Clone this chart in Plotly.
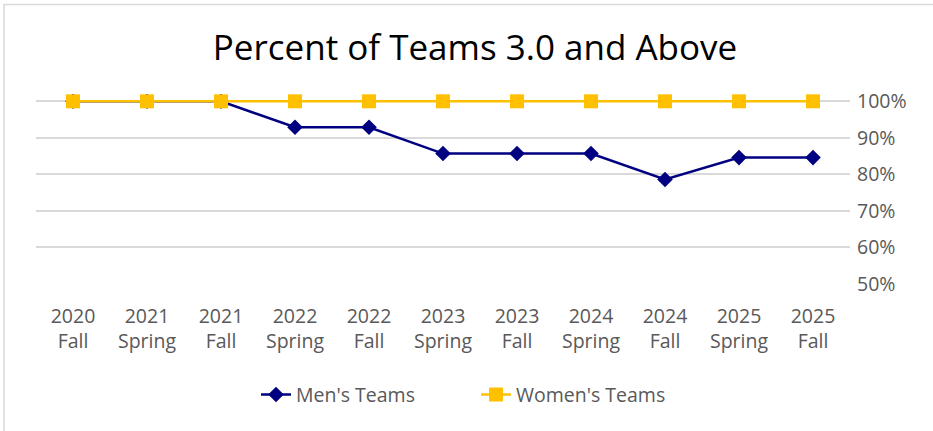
import plotly.graph_objects as go

categories = ["2020<br>Fall", "2021<br>Spring", "2021<br>Fall", "2022<br>Spring", "2022<br>Fall",
              "2023<br>Spring", "2023<br>Fall", "2024<br>Spring", "2024<br>Fall", "2025<br>Spring", "2025<br>Fall"]
mens = [100, 100, 100, 92.9, 92.9, 85.7, 85.7, 85.7, 78.6, 84.6, 84.6]
womens = [100, 100, 100, 100, 100, 100, 100, 100, 100, 100, 100]
y_ticks = [50, 60, 70, 80, 90, 100]
y_labels = [f"{v}%" for v in y_ticks]

W, H = 933, 431
y_top = 102.0
px_per_unit = (284 - 101) / 50
ml, mr = 36, 83
mb = H - 284
mt = 101 - (y_top - 100) * px_per_unit

fig = go.Figure()
fig.add_trace(go.Scatter(x=categories, y=mens, name="Men's Teams", mode="lines+markers",
                         line=dict(color="#000080", width=2.5),
                         marker=dict(symbol="diamond", size=12, color="#000080")))
fig.add_trace(go.Scatter(x=categories, y=womens, name="Women's Teams", mode="lines+markers",
                         line=dict(color="#FFC000", width=2.5),
                         marker=dict(symbol="square", size=14, color="#FFC000")))

pw = W - ml - mr
ph = H - mt - mb
fig.add_shape(type="rect", xref="paper", yref="paper",
              x0=(4 - ml) / pw, x1=(W + 20 - ml) / pw,
              y0=-(mb + 20) / ph, y1=(H - 4 - mb) / ph,
              line=dict(color="#D9D9D9", width=1.5), fillcolor="rgba(0,0,0,0)", layer="below")

fig.update_layout(
    width=W, height=H,
    margin=dict(l=ml, r=mr, t=mt, b=mb, autoexpand=False),
    paper_bgcolor="white", plot_bgcolor="white",
    title=dict(text="Percent of Teams 3.0 and Above", x=475 / W, xref="container", xanchor="center",
               y=(H - 48) / H, yref="container", yanchor="middle",
               font=dict(family="Open Sans, sans-serif", size=35, color="black")),
    font=dict(family="Open Sans, sans-serif", color="#595959"),
    xaxis=dict(type="category", range=[-0.5, 10.5], showgrid=False, zeroline=False,
               showline=False, ticks="", tickfont=dict(size=19.5, color="#595959"),
               ticklabelstandoff=18, fixedrange=True),
    yaxis=dict(range=[50, y_top], side="right", tickvals=y_ticks, ticktext=y_labels,
               showgrid=True, gridcolor="#D9D9D9", gridwidth=1.5, zeroline=False,
               showline=False, tickfont=dict(size=19.5, color="#595959"), ticklabelstandoff=6,
               fixedrange=True),
    legend=dict(orientation="h", x=(256 - ml) / pw, xanchor="left",
                y=-(395 - (H - mb)) / ph, yanchor="middle", entrywidth=175, entrywidthmode="pixels",
                font=dict(size=19.5, color="#595959")),
    showlegend=True,
)

fig.write_html("out.html", config={"displayModeBar": False},
               post_script="document.body.style.margin='0';")
